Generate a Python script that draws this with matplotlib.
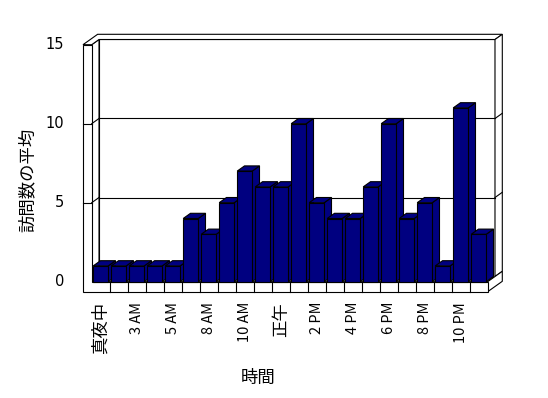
import matplotlib
matplotlib.use("Agg")
import matplotlib.pyplot as plt
from matplotlib.patches import Polygon, Rectangle

plt.rcParams['font.family'] = ['Noto Sans CJK JP', 'DejaVu Sans']

# ---- data ----
categories = ["真夜中", "1 AM", "3 AM", "4 AM", "5 AM", "7 AM", "8 AM", "9 AM",
              "10 AM", "11 AM", "正午", "1 PM", "2 PM", "3 PM", "4 PM", "5 PM",
              "6 PM", "7 PM", "8 PM", "9 PM", "10 PM", "11 PM"]
values = [1, 1, 1, 1, 1, 4, 3, 5, 7, 6, 6, 10, 5, 4, 4, 6, 10, 4, 5, 1, 11, 3]
y_ticks = [0, 5, 10, 15]
x_title = "時間"
y_title = "訪問数の平均"

# ---- geometry (pixel scale -> data units) ----
PXX, PXY = 18.0, 15.8          # px per category, px per unit
X0PX, Y0PX = 100.7, 281.7      # px of category 0 centre, value 0
DX, DY = 7.3 / PXX, 5.2 / PXY  # depth vector
T = 8.7 / PXX                  # left wall thickness
FT = 10.0 / PXY                # floor thickness
W = 7.5 / PXX                  # bar half width
n = len(values)
ymax = y_ticks[-1]
L, R = -0.5, n - 0.5

fig = plt.figure(figsize=(5.48, 3.98), dpi=100)
ax = fig.add_axes([0, 0, 1, 1])
ax.set_xlim((0 - X0PX) / PXX, (548 - X0PX) / PXX)
ax.set_ylim((Y0PX - 398) / PXY, Y0PX / PXY)
ax.axis('off')

lw = 0.8
def poly(pts, fc='white', z=1):
    ax.add_patch(Polygon(pts, closed=True, facecolor=fc, edgecolor='black',
                         linewidth=lw, zorder=z, joinstyle='miter'))

# floor top face
poly([(L, 0), (R, 0), (R + DX, DY), (L + DX, DY)])
# back wall inner face
poly([(L + DX, DY), (R + DX, DY), (R + DX, ymax + DY), (L + DX, ymax + DY)])
# left wall inner face
poly([(L, 0), (L + DX, DY), (L + DX, ymax + DY), (L, ymax)])
# top faces (left wall + back wall)
poly([(L - T, ymax), (L, ymax), (L + DX, ymax + DY), (R + DX, ymax + DY),
      (R + 2 * DX, ymax + 2 * DY), (L - T + 2 * DX, ymax + 2 * DY)])
# back wall right face
poly([(R + DX, DY), (R + DX, ymax + DY), (R + 2 * DX, ymax + 2 * DY), (R + 2 * DX, 2 * DY)])
# floor right face
poly([(R, -FT), (R, 0), (R + 2 * DX, 2 * DY), (R + 2 * DX, -FT + 2 * DY)])
# front L-shaped face (left wall front + floor front)
poly([(L - T, -FT), (R, -FT), (R, 0), (L, 0), (L, ymax), (L - T, ymax)])
# floor cells
for k in range(1, n):
    ax.plot([L + k, L + k], [-FT, 0], color='black', lw=lw, zorder=2)

# gridlines
for v in y_ticks[1:-1]:
    ax.plot([L + DX, R + DX], [v + DY, v + DY], color='black', lw=lw, zorder=2)
    ax.plot([L, L + DX], [v, v + DY], color='black', lw=lw, zorder=2)
    ax.plot([L - T, L], [v, v], color='black', lw=lw, zorder=2)
    ax.plot([R + DX, R + 2 * DX], [v + DY, v + 2 * DY], color='black', lw=lw, zorder=2)

# bars
navy = '#000080'
for i, v in enumerate(values):
    z = 3 + i * 0.01
    poly([(i + W, 0), (i + W + DX, DY), (i + W + DX, v + DY), (i + W, v)], fc=navy, z=z)
    poly([(i - W, v), (i + W, v), (i + W + DX, v + DY), (i - W + DX, v + DY)], fc=navy, z=z)
    ax.add_patch(Rectangle((i - W, 0), 2 * W, v, facecolor=navy, edgecolor='black',
                           linewidth=lw, zorder=z + 0.001))

# y tick labels
for v in y_ticks:
    ax.text((64 - X0PX) / PXX, v, str(v), ha='right', va='center', fontsize=10.5,
            family=['DejaVu Sans'], color='black')

# x tick labels (every other category)
for i, lab in enumerate(categories):
    if i % 2:
        continue
    fs = 12.5 if not lab.isascii() else 10.5
    ax.text(i, (Y0PX - 302) / PXY, lab, rotation=90, ha='center', va='top',
            fontsize=fs, color='black')

fig.text(258 / 548, 1 - 378 / 398, x_title, ha='center', va='center', fontsize=12.5)
fig.text(28 / 548, 1 - 180 / 398, y_title, ha='center', va='center', fontsize=12.5,
         rotation=90)

fig.savefig('out.png', dpi=100, facecolor='white')
